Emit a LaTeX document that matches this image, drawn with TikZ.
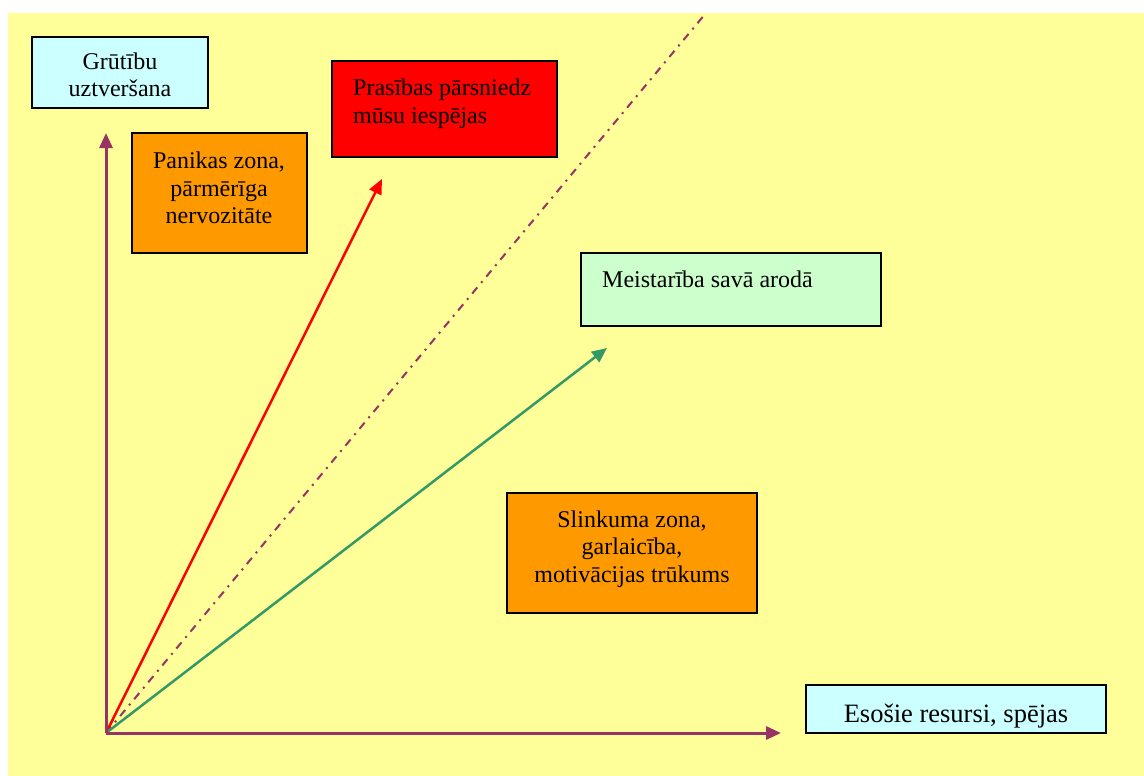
\documentclass[tikz,border=0pt]{standalone}
\usepackage{fontspec}
\setmainfont{Liberation Serif}
\usetikzlibrary{arrows.meta}
\definecolor{bgyellow}{HTML}{FFFF99}
\definecolor{paleCyan}{HTML}{CCFFFF}
\definecolor{paleGreen}{HTML}{CCFFCC}
\definecolor{zoneOrange}{HTML}{FF9900}
\definecolor{axisPurple}{HTML}{993366}
\definecolor{seaGreen}{HTML}{339966}
\tikzset{
  panel/.style={draw=black, line width=1.5pt, inner sep=0pt, outer sep=0pt},
  label/.style={font=\fontsize{24}{27.5}\selectfont, align=center, inner sep=0pt},
  axisline/.style={axisPurple, line width=3pt, -{Triangle[length=15pt,width=13pt]}},
  vec/.style={line width=2.5pt, -{Triangle[length=15pt,width=13pt]}},
}
\begin{document}
\begin{tikzpicture}[x=1pt,y=-1pt]
\useasboundingbox (0,0) rectangle (1144,776);
\fill[white] (0,0) rectangle (1144,776);
\fill[bgyellow] (8,13) rectangle (1144,776);

% boxes
\draw[panel, fill=paleCyan] (32,37) rectangle (208,108);
\node[label] (g) at (120,75) {Grūtību\\uztveršana};

\draw[panel, fill=zoneOrange] (132,133) rectangle (307,253);
\node[label] (p) at (219,188) {Panikas zona,\\pārmērīga\\nervozitāte};

\draw[panel, fill=red] (332,61) rectangle (557,157);
\node[label, align=left, anchor=north west] (r) at (353,79) {Prasības pārsniedz\\mūsu iespējas};

\draw[panel, fill=paleGreen] (581,253) rectangle (881,326);
\node[label, align=left, anchor=north west] (m) at (602,271) {Meistarība savā arodā};

\draw[panel, fill=zoneOrange] (507,493) rectangle (757,613);
\node[label] (s) at (632,549) {Slinkuma zona,\\garlaicība,\\motivācijas trūkums};

\draw[panel, fill=paleCyan] (806,685) rectangle (1106,733);
\node[label, font=\fontsize{26.5}{30}\selectfont, anchor=base] (e) at (956,722) {Esošie resursi, spējas};

% axes and vectors
\coordinate (o) at (106,733);
\coordinate (ytip) at (106,133);
\coordinate (xtip) at (781,733);
\coordinate (rtip) at (382,179);
\coordinate (gtip) at (607,348);
\coordinate (dend) at (706,13);

\draw[axisPurple, line width=2pt, dash pattern=on 8pt off 6pt on 2pt off 6pt] (o) -- (dend);
\draw[vec, red] (o) -- (rtip);
\draw[vec, seaGreen] (o) -- (gtip);
\draw[axisline] (o) -- (ytip);
\draw[axisline] (o) -- (xtip);
\end{tikzpicture}
\end{document}
